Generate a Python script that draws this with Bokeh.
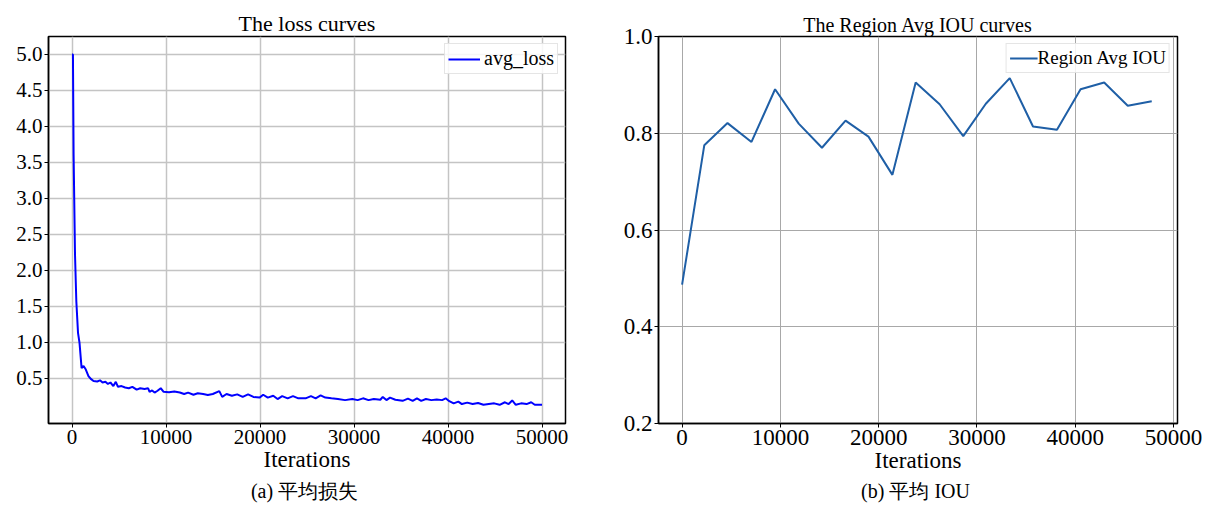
from bokeh.plotting import figure
from bokeh.layouts import row
from bokeh.models import FixedTicker, Range1d, Title
from bokeh.embed import file_html
from bokeh.resources import INLINE

# ---- data: loss curve ----
loss_iter = [0, 100, 170, 320, 460, 640, 800, 1020, 1230, 1470, 1750, 2000,
             2290, 2680, 2980, 3250, 3555, 3820, 4090, 4400, 4660, 4890, 5270, 5650,
             6040, 6420, 6880, 7260, 7720, 8100, 8250, 8520, 8790, 9100, 9440, 9750,
             10320, 10890, 11470, 11930, 12350, 12920, 13380, 13950, 14450, 14980,
             15670, 15980, 16440, 17010, 17580, 18160, 18730, 19300, 19950, 20340,
             20830, 21410, 21870, 22360, 22940, 23510, 24080, 24850, 25420, 25920,
             26450, 26950, 27600, 28290, 29050, 29820, 30390, 30960, 31540, 32110,
             32800, 33060, 33450, 33830, 34400, 35170, 35740, 36240, 36700, 37150,
             37650, 38230, 38800, 39370, 39750, 40140, 40600, 41100, 41480, 42050,
             42620, 43200, 43770, 44340, 44920, 45490, 46060, 46450, 46830, 47210,
             47780, 48360, 48850, 49230, 50000]
avg_loss = [5.0, 5.0, 3.61, 2.22, 1.57, 1.13, 0.99, 0.64, 0.67, 0.62, 0.53, 0.49,
            0.46, 0.454, 0.47, 0.44, 0.45, 0.42, 0.44, 0.39, 0.45, 0.38, 0.39, 0.37,
            0.36, 0.38, 0.34, 0.36, 0.35, 0.36, 0.31, 0.33, 0.30, 0.325, 0.36, 0.31,
            0.305, 0.315, 0.30, 0.28, 0.30, 0.27, 0.29, 0.28, 0.265, 0.28,
            0.32, 0.24, 0.28, 0.255, 0.275, 0.24, 0.275, 0.24, 0.23, 0.27,
            0.23, 0.255, 0.21, 0.25, 0.22, 0.25, 0.22, 0.22, 0.25, 0.22,
            0.26, 0.23, 0.22, 0.21, 0.195, 0.21, 0.195, 0.22, 0.195, 0.21,
            0.20, 0.24, 0.195, 0.23, 0.20, 0.185, 0.215, 0.185, 0.22, 0.185,
            0.21, 0.195, 0.205, 0.195, 0.22, 0.18, 0.15, 0.175, 0.14, 0.16,
            0.14, 0.155, 0.13, 0.14, 0.15, 0.13, 0.165, 0.14, 0.19, 0.13,
            0.15, 0.14, 0.165, 0.13, 0.13]
loss_yticks = [0.5, 1.0, 1.5, 2.0, 2.5, 3.0, 3.5, 4.0, 4.5, 5.0]

# ---- data: IOU curve ----
iou_iter = [0, 2256, 4622, 7060, 9461, 11863, 14229, 16630, 18960, 21397, 23763,
            26200, 28603, 30900, 33333, 35700, 38137, 40540, 42940, 45340, 47780]
region_iou = [0.487, 0.775, 0.821, 0.782, 0.891, 0.820, 0.770, 0.826, 0.793, 0.714,
              0.905, 0.860, 0.794, 0.861, 0.914, 0.814, 0.807, 0.891, 0.905, 0.857, 0.866]
iou_yticks = [0.2, 0.4, 0.6, 0.8, 1.0]
x_ticks = [0, 10000, 20000, 30000, 40000, 50000]

SERIF = "Liberation Serif"


def style(p, tick_size, grid_color, grid_width):
    p.outline_line_color = "black"
    p.outline_line_width = 1.5
    for ax in (p.xaxis[0], p.yaxis[0]):
        ax.axis_line_color = "black"
        ax.axis_line_width = 1.5
        ax.major_tick_out = 4
        ax.major_tick_in = 0
        ax.minor_tick_line_color = None
        ax.major_label_text_font = SERIF
        ax.major_label_text_font_size = tick_size
        ax.major_label_text_color = "black"
        ax.major_label_standoff = 2
    p.xaxis.axis_label = "Iterations"
    p.xaxis.axis_label_text_font = SERIF
    p.xaxis.axis_label_text_font_size = "23px"
    p.xaxis.axis_label_text_font_style = "normal"
    p.xaxis.axis_label_text_color = "black"
    p.xaxis.axis_label_standoff = 0
    p.xaxis.ticker = FixedTicker(ticks=x_ticks)
    p.xaxis.major_label_overrides = {t: str(t) for t in x_ticks}
    p.grid.grid_line_color = grid_color
    p.grid.grid_line_width = grid_width
    p.title.text_font = SERIF
    p.title.text_font_style = "normal"
    p.title.text_color = "black"
    p.title.align = "center"
    p.title.standoff = 2


def legend_style(lg, glyph_w, standoff, size):
    lg.location = "top_right"
    lg.margin = 7
    lg.padding = 3
    lg.spacing = 0
    lg.glyph_width = glyph_w
    lg.label_standoff = standoff
    lg.label_text_font = SERIF
    lg.label_text_font_size = size
    lg.label_text_color = "black"
    lg.border_line_color = "#cccccc"
    lg.background_fill_alpha = 0.85


# ---- left figure ----
p1 = figure(width=595, height=506, output_backend="svg", toolbar_location=None,
            x_range=Range1d(-2500, 52500), y_range=Range1d(-0.13, 5.25),
            title="The loss curves", min_border_left=48, min_border_right=30,
            min_border_top=35, min_border_bottom=83)
p1.line(loss_iter, avg_loss, line_color="#0000ff", line_width=2, legend_label="avg_loss")
style(p1, "21px", "#c4c4c4", 1.5)
p1.title.text_font_size = "22px"
p1.yaxis.ticker = FixedTicker(ticks=loss_yticks)
p1.yaxis.major_label_overrides = {t: f"{t:.1f}" for t in loss_yticks}
p1.add_layout(Title(text="(a)  平均损失", align="center", text_font=SERIF,
                    text_font_size="20px", text_font_style="normal", text_color="black",
                    standoff=6), "below")
legend_style(p1.legend[0], 32, 4, "20px")

# ---- right figure ----
p2 = figure(width=612, height=506, output_backend="svg", toolbar_location=None,
            x_range=Range1d(-2400, 50400), y_range=Range1d(0.2, 1.0),
            title="The Region Avg IOU curves", min_border_left=63, min_border_right=30,
            min_border_top=36, min_border_bottom=83)
p2.line(iou_iter, region_iou, line_color="#1f5fa6", line_width=2, legend_label="Region Avg IOU")
style(p2, "23px", "#a8a8a8", 1)
p2.title.text_font_size = "20px"
p2.yaxis.ticker = FixedTicker(ticks=iou_yticks)
p2.yaxis.major_label_overrides = {t: f"{t:.1f}" for t in iou_yticks}
p2.add_layout(Title(text="(b)  平均 IOU", align="center", text_font=SERIF,
                    text_font_size="20px", text_font_style="normal", text_color="black",
                    standoff=4), "below")
legend_style(p2.legend[0], 28, 0, "19px")

layout = row(p1, p2, spacing=0)
open("out.html", "w").write(file_html(layout, INLINE))
